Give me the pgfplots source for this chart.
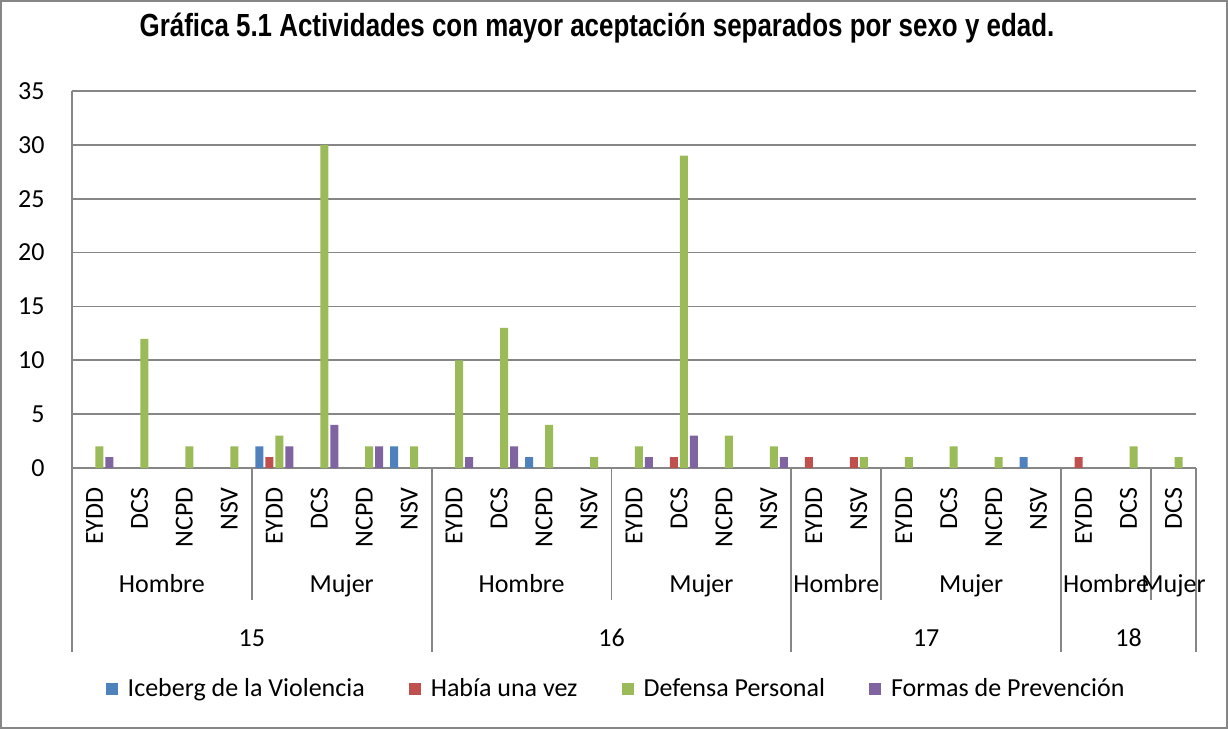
\documentclass[border=0pt]{standalone}
\usepackage{fontspec}
\setmainfont{Carlito}
\newfontfamily\titlefont{Liberation Sans}
\usepackage{graphicx}
\usepackage{pgfplots}
\pgfplotsset{compat=1.18}

\definecolor{iceblue}{HTML}{4F81BD}
\definecolor{habred}{HTML}{C0504D}
\definecolor{defgreen}{HTML}{9BBB59}
\definecolor{formpurple}{HTML}{8064A2}
\definecolor{gridgray}{RGB}{134,134,134}

\begin{document}
\begin{tikzpicture}
\useasboundingbox (-36pt,-130.5pt) rectangle (578pt,234pt);
\draw[gridgray, line width=1pt] (-35.5pt,-130pt) rectangle (577.5pt,233.5pt);

%% title
\node[anchor=base, font=\titlefont\bfseries\fontsize{16}{18}\selectfont]
  at (262.5pt,215.5pt) {\scalebox{0.81}[1]{Gráfica 5.1 Actividades con mayor aceptación separados por sexo y edad.}};

\begin{axis}[
    at={(0,0)}, anchor=south west,
    scale only axis, width=562pt, height=188.5pt,
    clip=false,
    ybar=1pt, bar width=4pt,
    xmin=-0.5, xmax=24.5,
    ymin=0, ymax=35,
    ytick={0,5,...,35},
    ymajorgrids, grid style={gridgray, line width=0.9pt},
    axis x line*=bottom, axis y line*=left,
    axis line style={-, gridgray, line width=0.9pt},
    major tick length=0pt,
    font=\fontsize{13}{15}\selectfont,
    /pgf/number format/assume math mode=true,
    yticklabel style={anchor=east, inner sep=0pt, xshift=-13.5pt},
    xtick={0,...,24},
    xticklabels={EYDD,DCS,NCPD,NSV,EYDD,DCS,NCPD,NSV,EYDD,DCS,NCPD,NSV,
                 EYDD,DCS,NCPD,NSV,EYDD,NSV,EYDD,DCS,NCPD,NSV,EYDD,DCS,DCS},
    xticklabel style={yshift=-9.5pt, rotate=90, anchor=east, inner sep=0pt},
    legend columns=4,
    legend style={at={(axis description cs:0.485,-0.586)}, anchor=center,
                  draw=none, font=\fontsize{13}{15}\selectfont,
                  /tikz/every even column/.append style={column sep=20pt}},
    legend image code/.code={\fill[#1] (0pt,-3pt) rectangle (6pt,3pt); \path (9pt,0pt);},
  ]

  %% Iceberg de la Violencia
  \addplot[fill=iceblue, draw=none] coordinates {
    (4,2) (7,2) (10,1) (21,1)
  };
  \addlegendentry{Iceberg de la Violencia}

  %% Había una vez
  \addplot[fill=habred, draw=none] coordinates {
    (4,1) (13,1) (16,1) (17,1) (22,1)
  };
  \addlegendentry{Había una vez}

  %% Defensa Personal
  \addplot[fill=defgreen, draw=none] coordinates {
    (0,2) (1,12) (2,2) (3,2) (4,3) (5,30) (6,2) (7,2)
    (8,10) (9,13) (10,4) (11,1) (12,2) (13,29) (14,3) (15,2)
    (17,1) (18,1) (19,2) (20,1) (23,2) (24,1)
  };
  \addlegendentry{Defensa Personal}

  %% Formas de Prevención
  \addplot[fill=formpurple, draw=none] coordinates {
    (0,1) (4,2) (5,4) (6,2) (8,1) (9,2) (12,1) (13,3) (15,1)
  };
  \addlegendentry{Formas de Prevención}

  %% separators: sex level
  \pgfplotsinvokeforeach{3.5,11.5,17.5,23.5}{
    \draw[gridgray, line width=0.9pt] (axis cs:#1,0) -- ++(0pt,-66pt);
  }
  %% separators: age level
  \pgfplotsinvokeforeach{-0.5,7.5,15.5,21.5,24.5}{
    \draw[gridgray, line width=0.9pt] (axis cs:#1,0) -- ++(0pt,-92pt);
  }

  %% sex labels
  \node[anchor=base, inner sep=0pt] at ([yshift=-62pt]axis cs:1.5,0) {Hombre};
  \node[anchor=base, inner sep=0pt] at ([yshift=-62pt]axis cs:5.5,0) {Mujer};
  \node[anchor=base, inner sep=0pt] at ([yshift=-62pt]axis cs:9.5,0) {Hombre};
  \node[anchor=base, inner sep=0pt] at ([yshift=-62pt]axis cs:13.5,0) {Mujer};
  \node[anchor=base, inner sep=0pt] at ([yshift=-62pt]axis cs:16.5,0) {Hombre};
  \node[anchor=base, inner sep=0pt] at ([yshift=-62pt]axis cs:19.5,0) {Mujer};
  \node[anchor=base, inner sep=0pt] at ([yshift=-62pt]axis cs:22.5,0) {Hombre};
  \node[anchor=base, inner sep=0pt] at ([yshift=-62pt]axis cs:24,0) {Mujer};
  %% age labels
  \node[anchor=base, inner sep=0pt] at ([yshift=-89pt]axis cs:3.5,0) {15};
  \node[anchor=base, inner sep=0pt] at ([yshift=-89pt]axis cs:11.5,0) {16};
  \node[anchor=base, inner sep=0pt] at ([yshift=-89pt]axis cs:18.5,0) {17};
  \node[anchor=base, inner sep=0pt] at ([yshift=-89pt]axis cs:23,0) {18};
\end{axis}
\end{tikzpicture}
\end{document}
